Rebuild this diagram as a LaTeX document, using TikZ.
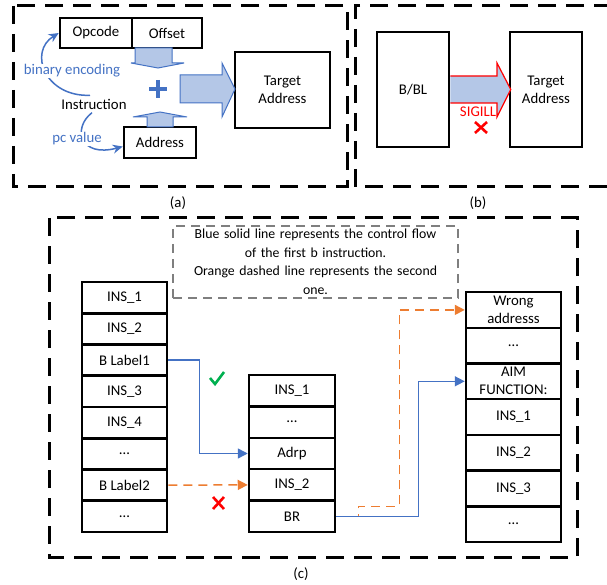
\documentclass[tikz,border=0pt]{standalone}
\usepackage{fontspec}
\setmainfont{Carlito}
\usetikzlibrary{arrows.meta,calc}
\definecolor{cblue}{HTML}{4472C4}
\definecolor{cfill}{HTML}{B4C7E7}
\definecolor{corange}{HTML}{ED7D31}
\definecolor{cgreen}{HTML}{00B050}
\definecolor{cred}{HTML}{FF0000}
\definecolor{cgray}{HTML}{7F7F7F}
\begin{document}
\begin{tikzpicture}[x=1pt,y=-1pt,
  font=\fontsize{14.8}{18}\selectfont,
  panel/.style={line width=3pt, dash pattern=on 18pt off 10pt},
  box/.style={draw, line width=2.5pt, inner sep=0pt, align=center},
  lcell/.style={box, minimum width=85pt, minimum height=31.25pt},
  mcell/.style={box, minimum width=86pt, minimum height=31.4pt},
  rcell/.style={box, minimum width=95pt, minimum height=35.7pt},
  blockarrow/.style={fill=cfill, draw=cblue, line width=1pt, line join=miter},
  bluecurve/.style={cblue, line width=1.5pt, -{Stealth[length=10pt,width=9pt]}},
  bluetext/.style={text=cblue, fill=white, inner sep=1pt},
  flowblue/.style={cblue, line width=1.5pt, -{Triangle[length=10pt,width=10pt]}},
  floworange/.style={corange, line width=1.5pt, dash pattern=on 9pt off 6pt, -{Triangle[length=10pt,width=10pt]}},
  notebox/.style={draw=cgray, line width=1.2pt, dash pattern=on 9pt off 6pt, align=center,
    text width=279pt, inner sep=3pt, minimum height=72pt, font=\fontsize{13.8}{18.5}\selectfont},
  markline/.style={line width=2.6pt}
]
\useasboundingbox (0,0) rectangle (607,585);

% ---------- panel frames ----------
\draw[panel] (13,6) rectangle (347,187);
\draw[panel] (612,6) -- (355,6) -- (355,187) -- (612,187);
\draw[panel] (49,218) rectangle (577,557);
\node (la) at (178,203) {(a)};
\node (lb) at (478,203) {(b)};
\node (lc) at (301,574) {(c)};

% ---------- panel (a) ----------
\node[box, minimum width=72pt, minimum height=30pt] (opcode) at (96,33) {Opcode};
\node[box, minimum width=70pt, minimum height=30pt] (offset) at (167,33) {Offset};
\node[box, minimum width=72pt, minimum height=31pt] (address) at (160,142.5) {Address};
\node[box, minimum width=95pt, minimum height=76pt] (target) at (282.5,90) {Target\\Address};

% down arrow under Offset
\draw[blockarrow] (135,48) -- (172,48) -- (172,63) -- (184,63) -- (158,68) -- (131,63) -- (135,63) -- cycle;
% up arrow above Address
\draw[blockarrow] (147,127) -- (147,117) -- (133,117) -- (160,112) -- (187,117) -- (173,117) -- (173,127) -- cycle;
% right arrow to Target
\draw[blockarrow] (180,75) -- (222,75) -- (222,63) -- (235,89) -- (222,117) -- (222,103) -- (180,103) -- cycle;
% plus
\draw[cblue, line width=4.5pt] (149,89) -- (167,89) (158,80) -- (158,98);

\node (instr) at (94,104) {Instruction};
\draw[bluecurve] ([xshift=-4pt]instr.north) .. controls (45,97) and (28,52) .. (opcode.west);
\draw[bluecurve] ([xshift=-2pt]instr.south) .. controls (72,128) and (80,158) .. ([yshift=-4pt]address.west);
\node[bluetext] (binenc) at (72,71) {binary encoding};
\node[bluetext] (pcval) at (77,139) {pc value};

% ---------- panel (b) ----------
\node[box, minimum width=72pt, minimum height=115pt] (bbl) at (413,89.5) {B/BL};
\node[box, minimum width=72pt, minimum height=115pt] (target2) at (546,89.5) {Target\\Address};
\draw[fill=cfill, draw=cred, line width=1.2pt, line join=miter]
  (bbl.east |- 0,76) -- (497,76) -- (497,63) -- ([xshift=2pt]target2.west) -- (497,117) -- (497,103) -- (bbl.east |- 0,103);
\node[text=cred, inner sep=1pt] (sigill) at (478,112) {SIGILL};
\draw[cred, markline] (475,122) -- (487,133) (475,133) -- (487,122);

% ---------- panel (c) ----------
\node[notebox] (note) at (315.5,262) {Blue solid line represents the control flow\\of the first b instruction.\\Orange dashed line represents the second\\one.};

\node[lcell] (L1) at (124.5,297.6) {INS\_1};
\node[lcell] (L2) at (124.5,328.9) {INS\_2};
\node[lcell] (L3) at (124.5,360.1) {B Label1};
\node[lcell] (L4) at (124.5,391.4) {INS\_3};
\node[lcell] (L5) at (124.5,422.6) {INS\_4};
\node[lcell] (L6) at (124.5,453.9) {…};
\node[lcell] (L7) at (124.5,485.1) {B Label2};
\node[lcell] (L8) at (124.5,516.4) {…};

\node[mcell] (M1) at (292,390.7) {INS\_1};
\node[mcell] (M2) at (292,422.1) {…};
\node[mcell] (M3) at (292,453.5) {Adrp};
\node[mcell] (M4) at (292,484.9) {INS\_2};
\node[mcell] (M5) at (292,516.3) {BR};

\node[rcell] (R1) at (513.5,309.9) {Wrong\\addresss};
\node[rcell] (R2) at (513.5,345.6) {…};
\node[rcell] (R3) at (513.5,381.3) {AIM\\FUNCTION:};
\node[rcell] (R4) at (513.5,417.0) {INS\_1};
\node[rcell] (R5) at (513.5,452.7) {INS\_2};
\node[rcell] (R6) at (513.5,488.4) {INS\_3};
\node[rcell] (R7) at (513.5,524.1) {…};

\draw[floworange] (M5.east) -- ++(22,0) -- ++(0,-10) -- ++(41,0) |- (R1.west);
\draw[floworange] (L7.east) -- (M4.west);
\draw[flowblue] (L3.east) -- ++(31,0) |- (M3.west);
\draw[flowblue] (M5.east) -- ++(82,0) |- (R3.west);

\draw[cgreen, markline] (210,378) -- (215,384) -- (224,372);
\draw[cred, markline] (213,497) -- (224,509) (213,509) -- (224,497);
\end{tikzpicture}
\end{document}
